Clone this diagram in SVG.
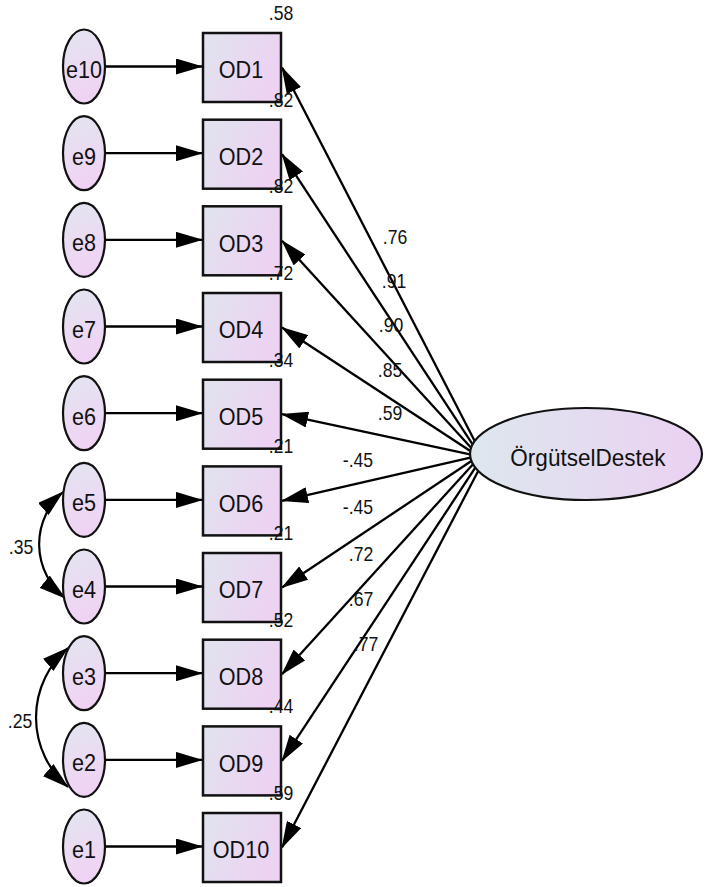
<svg xmlns="http://www.w3.org/2000/svg" width="707" height="887" viewBox="0 0 707 887">
  <defs>
    <linearGradient id="boxFill" x1="0" y1="0" x2="1" y2="0.4">
      <stop offset="0" stop-color="#e0e4ee"/>
      <stop offset="1" stop-color="#edd2f3"/>
    </linearGradient>
    <linearGradient id="errFill" x1="0" y1="0" x2="0.3" y2="1">
      <stop offset="0" stop-color="#e2e6f0"/>
      <stop offset="1" stop-color="#f0d3f4"/>
    </linearGradient>
    <linearGradient id="latFill" x1="0" y1="0" x2="1" y2="0">
      <stop offset="0" stop-color="#dde7ee"/>
      <stop offset="1" stop-color="#ebd1f2"/>
    </linearGradient>
    <marker id="head" viewBox="0 0 27 16" refX="26" refY="8" markerWidth="27" markerHeight="16" markerUnits="userSpaceOnUse" orient="auto-start-reverse">
      <path d="M0,0 L27,8 L0,16 Z" fill="#000"/>
    </marker>
  </defs>
  <style>
    .box { fill: url(#boxFill); stroke: #111; stroke-width: 2.5; }
    .err { fill: url(#errFill); stroke: #111; stroke-width: 2.2; }
    .lat { fill: url(#latFill); stroke: #111; stroke-width: 2.2; }
    .name, .num, .big { font-family: "Liberation Sans", Arial, sans-serif; fill: #111; text-anchor: middle; transform-box: fill-box; transform-origin: center; }
    .name { font-size: 24px; transform: scaleX(0.9); }
    .num { font-size: 20px; transform: scaleX(0.88); }
    .big { font-size: 23px; transform: scaleX(0.98); }
    .path { fill: none; stroke: #000; stroke-width: 2.3; marker-end: url(#head); }
    .cov { fill: none; stroke: #000; stroke-width: 2.2; marker-start: url(#head); marker-end: url(#head); }
  </style>
  <rect width="707" height="887" fill="#fff"/>

  <!-- connectors: error terms, loadings, covariances -->
  <g id="connectors">
    <line class="path" x1="105" y1="66.5" x2="202" y2="66.5"/>
    <line class="path" x1="105" y1="153.2" x2="202" y2="153.2"/>
    <line class="path" x1="105" y1="239.8" x2="202" y2="239.8"/>
    <line class="path" x1="105" y1="326.5" x2="202" y2="326.5"/>
    <line class="path" x1="105" y1="413.2" x2="202" y2="413.2"/>
    <line class="path" x1="105" y1="499.9" x2="202" y2="499.9"/>
    <line class="path" x1="105" y1="586.5" x2="202" y2="586.5"/>
    <line class="path" x1="105" y1="673.2" x2="202" y2="673.2"/>
    <line class="path" x1="105" y1="759.9" x2="202" y2="759.9"/>
    <line class="path" x1="105" y1="846.5" x2="202" y2="846.5"/>

    <line class="path" x1="474.7" y1="441" x2="282" y2="67.5"/>
    <line class="path" x1="472.6" y1="444.3" x2="282" y2="154.2"/>
    <line class="path" x1="471.1" y1="447.7" x2="282" y2="240.8"/>
    <line class="path" x1="470.3" y1="451" x2="282" y2="327.5"/>
    <line class="path" x1="470" y1="454.3" x2="282" y2="414.2"/>
    <line class="path" x1="470.4" y1="457.7" x2="282" y2="500.9"/>
    <line class="path" x1="471.4" y1="461" x2="282" y2="587.5"/>
    <line class="path" x1="473" y1="464.3" x2="282" y2="674.2"/>
    <line class="path" x1="475.3" y1="467.7" x2="282" y2="760.9"/>
    <line class="path" x1="478.2" y1="471" x2="282" y2="847.5"/>

    <path class="cov" d="M63,492 A69,69 0 0 0 65,598"/>
    <path class="cov" d="M68,648 A91.5,91.5 0 0 0 68,787"/>
  </g>

  <!-- path coefficients -->
  <g id="loadings">
    <text class="num" x="395" y="244">.76</text>
    <text class="num" x="394" y="288">.91</text>
    <text class="num" x="391" y="332">.90</text>
    <text class="num" x="390" y="377">.85</text>
    <text class="num" x="390" y="420">.59</text>
    <text class="num" x="358" y="467">-.45</text>
    <text class="num" x="358" y="514">-.45</text>
    <text class="num" x="361" y="561">.72</text>
    <text class="num" x="361" y="606">.67</text>
    <text class="num" x="366" y="651">.77</text>
    <text class="num" x="21" y="554">.35</text>
    <text class="num" x="20" y="728">.25</text>
  </g>

  <!-- latent factor -->
  <g id="OrgutselDestek">
    <ellipse class="lat" cx="586" cy="454" rx="116" ry="46"/>
    <text class="big" x="588" y="466">ÖrgütselDestek</text>
  </g>

  <!-- observed indicators with squared multiple correlations -->
  <g id="OD1"><rect class="box" x="203" y="33" width="78" height="69"/><text class="name" x="241" y="78.5">OD1</text><text class="num" x="281" y="20">.58</text></g>
  <g id="OD2"><rect class="box" x="203" y="119.7" width="78" height="69"/><text class="name" x="241" y="165.2">OD2</text><text class="num" x="281" y="106.7">.82</text></g>
  <g id="OD3"><rect class="box" x="203" y="206.3" width="78" height="69"/><text class="name" x="241" y="251.8">OD3</text><text class="num" x="281" y="193.3">.82</text></g>
  <g id="OD4"><rect class="box" x="203" y="293" width="78" height="69"/><text class="name" x="241" y="338.5">OD4</text><text class="num" x="281" y="280">.72</text></g>
  <g id="OD5"><rect class="box" x="203" y="379.7" width="78" height="69"/><text class="name" x="241" y="425.2">OD5</text><text class="num" x="281" y="366.7">.34</text></g>
  <g id="OD6"><rect class="box" x="203" y="466.4" width="78" height="69"/><text class="name" x="241" y="511.9">OD6</text><text class="num" x="281" y="453.4">.21</text></g>
  <g id="OD7"><rect class="box" x="203" y="553" width="78" height="69"/><text class="name" x="241" y="598.5">OD7</text><text class="num" x="281" y="540">.21</text></g>
  <g id="OD8"><rect class="box" x="203" y="639.7" width="78" height="69"/><text class="name" x="241" y="685.2">OD8</text><text class="num" x="281" y="626.7">.52</text></g>
  <g id="OD9"><rect class="box" x="203" y="726.4" width="78" height="69"/><text class="name" x="241" y="771.9">OD9</text><text class="num" x="281" y="713.4">.44</text></g>
  <g id="OD10"><rect class="box" x="203" y="813" width="78" height="69"/><text class="name" x="241" y="858.5">OD10</text><text class="num" x="281" y="800">.59</text></g>

  <!-- error terms -->
  <g id="e10"><ellipse class="err" cx="84" cy="66.5" rx="21" ry="37"/><text class="name" x="84" y="78">e10</text></g>
  <g id="e9"><ellipse class="err" cx="84" cy="153.2" rx="21" ry="37"/><text class="name" x="84" y="164.7">e9</text></g>
  <g id="e8"><ellipse class="err" cx="84" cy="239.8" rx="21" ry="37"/><text class="name" x="84" y="251.3">e8</text></g>
  <g id="e7"><ellipse class="err" cx="84" cy="326.5" rx="21" ry="37"/><text class="name" x="84" y="338">e7</text></g>
  <g id="e6"><ellipse class="err" cx="84" cy="413.2" rx="21" ry="37"/><text class="name" x="84" y="424.7">e6</text></g>
  <g id="e5"><ellipse class="err" cx="84" cy="499.9" rx="21" ry="37"/><text class="name" x="84" y="511.4">e5</text></g>
  <g id="e4"><ellipse class="err" cx="84" cy="586.5" rx="21" ry="37"/><text class="name" x="84" y="598">e4</text></g>
  <g id="e3"><ellipse class="err" cx="84" cy="673.2" rx="21" ry="37"/><text class="name" x="84" y="684.7">e3</text></g>
  <g id="e2"><ellipse class="err" cx="84" cy="759.9" rx="21" ry="37"/><text class="name" x="84" y="771.4">e2</text></g>
  <g id="e1"><ellipse class="err" cx="84" cy="846.5" rx="21" ry="37"/><text class="name" x="84" y="858">e1</text></g>
</svg>
